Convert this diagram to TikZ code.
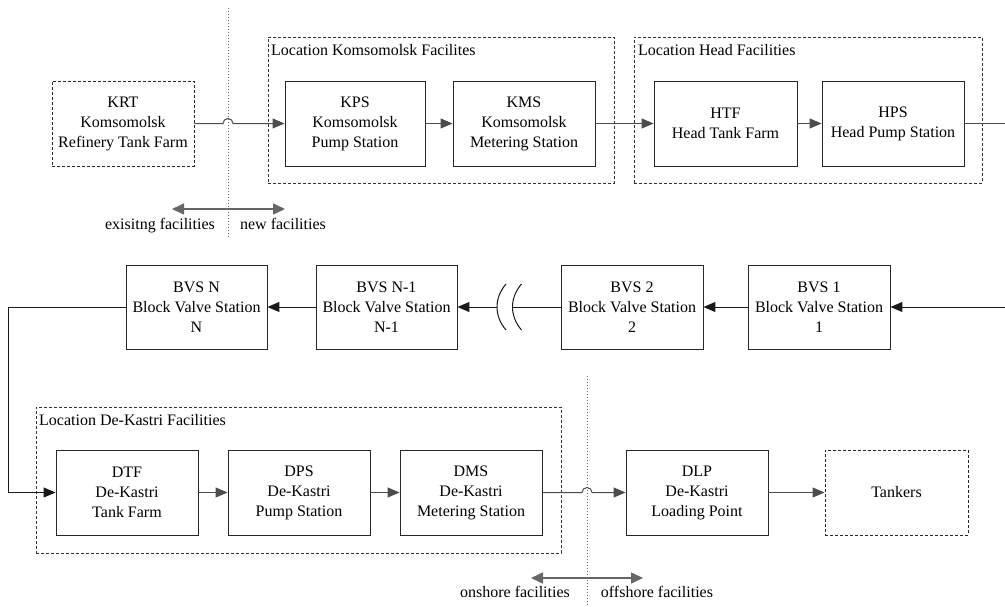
\documentclass[tikz,border=0pt]{standalone}
\usepackage{fontspec}
\setmainfont{Liberation Serif}
\usetikzlibrary{arrows.meta}
\begin{document}
\begin{tikzpicture}[x=1pt,y=1pt,
  every node/.style={font=\fontsize{16}{20}\selectfont},
  stationbox/.style={draw=black!85, line width=0.9pt, align=center, inner sep=0pt,
    minimum height=85pt},
  extbox/.style={stationbox, dash pattern=on 3pt off 2pt},
  groupbox/.style={draw=black!80, line width=0.9pt, dash pattern=on 3pt off 2pt,
    inner sep=0pt},
  grouplabel/.style={anchor=base west, inner sep=0pt},
  flow/.style={draw=black!70, line width=1pt, -{Triangle[length=12pt,width=10pt]}},
  flowdark/.style={flow, draw=black!90},
  plain/.style={draw=black!70, line width=1pt},
  divider/.style={draw=black!60, line width=0.9pt, dash pattern=on 1pt off 2pt},
  twoway/.style={draw=black!60, line width=1.6pt,
    {Triangle[length=12pt,width=11pt]}-{Triangle[length=12pt,width=11pt]}},
  sidelabel/.style={anchor=base, inner sep=0pt}
]
\useasboundingbox (0,0) rectangle (1005,-606);

% ---- location groups (dashed frames)
\node[groupbox, minimum width=346pt, minimum height=146pt] (grpK) at (441,-110) {};
\node[grouplabel] (grpKlbl) at (271,-55) {Location Komsomolsk Facilites};
\node[groupbox, minimum width=348pt, minimum height=146pt] (grpH) at (808,-110) {};
\node[grouplabel] (grpHlbl) at (638,-55) {Location Head Facilities};
\node[groupbox, minimum width=525pt, minimum height=146pt] (grpD) at (298.5,-480) {};
\node[grouplabel] (grpDlbl) at (39,-425) {Location De-Kastri Facilities};

% ---- row 1
\node[extbox, minimum width=142pt] (KRT) at (123,-123.5) {KRT\\Komsomolsk\\Refinery Tank Farm};
\node[stationbox, minimum width=140pt] (KPS) at (355,-123.5) {KPS\\Komsomolsk\\Pump Station};
\node[stationbox, minimum width=142pt] (KMS) at (524,-123.5) {KMS\\Komsomolsk\\Metering Station};
\node[stationbox, minimum width=143pt] (HTF) at (725.5,-123.5) {HTF\\Head Tank Farm};
\node[stationbox, minimum width=142pt] (HPS) at (893,-123.5) {HPS\\Head Pump Station};

% ---- row 2
\node[stationbox, minimum width=141pt, minimum height=84pt] (BVSN) at (196.5,-307) {BVS N\\Block Valve Station\\N};
\node[stationbox, minimum width=141pt, minimum height=84pt] (BVSNm) at (386.5,-307) {BVS N-1\\Block Valve Station\\N-1};
\node[stationbox, minimum width=142pt, minimum height=84pt] (BVS2) at (632,-307) {BVS 2\\Block Valve Station\\2};
\node[stationbox, minimum width=142pt, minimum height=84pt] (BVS1) at (819,-307) {BVS 1\\Block Valve Station\\1};

% ---- row 3
\node[stationbox, minimum width=142pt] (DTF) at (127,-492.5) {DTF\\De-Kastri\\Tank Farm};
\node[stationbox, minimum width=142pt] (DPS) at (299,-492.5) {DPS\\De-Kastri\\Pump Station};
\node[stationbox, minimum width=142pt] (DMS) at (471,-492.5) {DMS\\De-Kastri\\Metering Station};
\node[stationbox, minimum width=142pt] (DLP) at (697,-492.5) {DLP\\De-Kastri\\Loading Point};
\node[extbox, minimum width=143pt] (TNK) at (896.5,-492.5) {Tankers};

% ---- boundary markers
\coordinate (bndTopA) at (228,-8);
\coordinate (bndTopB) at (228,-238);
\coordinate (bndBotA) at (587,-376);
\coordinate (bndBotB) at (587,-606);
\draw[divider] (bndTopA) -- (bndTopB);
\draw[divider] (bndBotA) -- (bndBotB);

% ---- connectors, row 1
\coordinate (hop1) at (228,-123.5);
\draw[flow] (KRT.east) -- ([xshift=-5pt]hop1) arc[start angle=180, end angle=0, radius=5pt] -- (KPS.west);
\draw[flow] (KPS) -- (KMS);
\draw[flow] (KMS) -- (HTF);
\draw[flow] (HTF) -- (HPS);
\coordinate (exitR) at (1005,-123.5);
\draw[plain] (HPS.east) -- (exitR);

% ---- connectors, row 2
\coordinate (entryR) at (1005,-307);
\draw[flowdark] (entryR) -- (BVS1.east);
\draw[flowdark] (BVS1) -- (BVS2);
\coordinate (brkR) at (512.5,-307);
\coordinate (brkL) at (497,-307);
\draw[draw=black!90, line width=1pt] (BVS2.west) -- (brkR);
\draw[draw=black!90, line width=1pt] (506,-284) .. controls (494,-298) and (494,-316) .. (506,-330);
\draw[draw=black!90, line width=1pt] (521.5,-284) .. controls (509.5,-298) and (509.5,-316) .. (521.5,-330);
\draw[flowdark] (brkL) -- (BVSNm.east);
\draw[flowdark] (BVSNm) -- (BVSN);
\coordinate (turnTop) at (8,-307);
\coordinate (turnBot) at (8,-492.5);
\draw[flowdark] (BVSN.west) -- (turnTop) -- (turnBot) -- (DTF.west);

% ---- connectors, row 3
\draw[flow] (DTF) -- (DPS);
\draw[flow] (DPS) -- (DMS);
\coordinate (hop2) at (587,-492.5);
\draw[flow] (DMS.east) -- ([xshift=-5pt]hop2) arc[start angle=180, end angle=0, radius=5pt] -- (DLP.west);
\draw[flow] (DLP) -- (TNK);

% ---- boundary annotations
\coordinate (exL) at (172,-209);
\coordinate (exR) at (285,-209);
\draw[twoway] (exL) -- (exR);
\node[sidelabel] (exlbl) at (160,-229) {exisitng facilities};
\node[sidelabel] (newlbl) at (283,-229) {new facilities};

\coordinate (offL) at (531,-578);
\coordinate (offR) at (643,-578);
\draw[twoway] (offL) -- (offR);
\node[sidelabel] (onlbl) at (515,-597) {onshore facilities};
\node[sidelabel] (offlbl) at (657,-597) {offshore facilities};
\end{tikzpicture}
\end{document}
